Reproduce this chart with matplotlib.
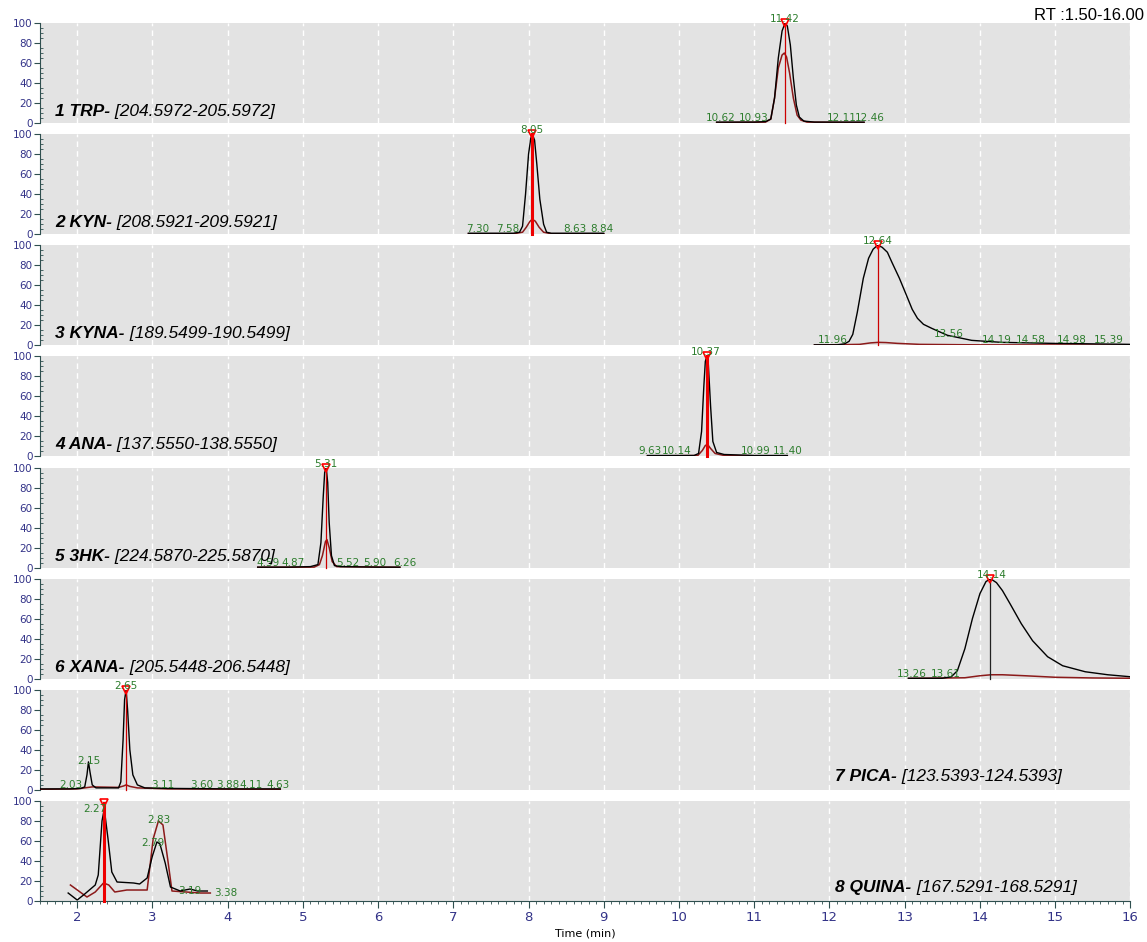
import matplotlib.pyplot as plt
from matplotlib.ticker import MultipleLocator
import numpy as np

# ---- data ----
names = ["1 TRP-", "2 KYN-", "3 KYNA-", "4 ANA-", "5 3HK-", "6 XANA-", "7 PICA-", "8 QUINA-"]
ranges = ["[204.5972-205.5972]", "[208.5921-209.5921]", "[189.5499-190.5499]",
          "[137.5550-138.5550]", "[224.5870-225.5870]", "[205.5448-206.5448]",
          "[123.5393-124.5393]", "[167.5291-168.5291]"]

trp_t = [10.50, 11.00, 11.15, 11.22, 11.27, 11.32, 11.37, 11.41, 11.44, 11.48, 11.52, 11.56, 11.60, 11.66, 11.80, 12.10, 12.46]
trp_black = [1, 1, 1.5, 4, 25, 65, 92, 100, 97, 78, 45, 18, 6, 2, 1, 1, 1]
trp_rt = [10.50, 11.15, 11.22, 11.27, 11.32, 11.37, 11.40, 11.43, 11.47, 11.52, 11.57, 11.62, 11.70, 12.46]
trp_red = [0.5, 1, 4, 25, 55, 68, 70, 66, 50, 25, 8, 3, 1, 0.5]

kyn_t = [7.20, 7.50, 7.80, 7.88, 7.92, 7.96, 8.00, 8.03, 8.05, 8.08, 8.11, 8.15, 8.20, 8.24, 8.30, 8.60, 9.00]
kyn_black = [1, 1, 1, 2, 8, 40, 80, 96, 100, 94, 70, 35, 10, 2, 1, 1, 1]
kyn_rt = [7.20, 7.80, 7.92, 7.97, 8.02, 8.05, 8.09, 8.14, 8.20, 8.30, 9.00]
kyn_red = [0.5, 0.5, 2, 7, 13, 15, 13, 7, 2, 0.5, 0.5]

kyna_t = [11.80, 12.10, 12.20, 12.26, 12.31, 12.37, 12.45, 12.52, 12.58, 12.64, 12.70, 12.77, 12.83, 12.93,
          13.04, 13.10, 13.17, 13.25, 13.36, 13.45, 13.57, 13.70, 13.89, 14.29, 14.96, 15.50, 16.00]
kyna_black = [0.5, 0.5, 1.5, 4, 11, 33, 67, 87, 96, 100, 98, 93, 83, 67,
              47, 36, 27, 21, 17, 14, 10, 8, 5, 3, 2, 1.5, 1]
kyna_rt = [11.80, 12.40, 12.55, 12.65, 12.75, 12.90, 13.20, 14.00, 16.00]
kyna_red = [0.3, 1, 2.5, 3, 2.8, 2, 1, 0.5, 0.3]

ana_t = [9.58, 9.90, 10.20, 10.26, 10.30, 10.33, 10.35, 10.37, 10.39, 10.42, 10.45, 10.50, 10.60, 11.00, 11.44]
ana_black = [1, 1, 1, 3, 25, 70, 95, 100, 92, 50, 15, 4, 2, 1, 1]
ana_rt = [9.58, 10.25, 10.31, 10.35, 10.38, 10.42, 10.48, 10.60, 11.44]
ana_red = [0.5, 1, 6, 11, 12, 8, 3, 1, 0.5]

hk_t = [4.40, 4.80, 5.10, 5.20, 5.24, 5.27, 5.29, 5.31, 5.33, 5.35, 5.38, 5.42, 5.50, 6.00, 6.29]
hk_black = [0.5, 0.5, 1, 3, 25, 70, 95, 100, 85, 45, 12, 2, 1, 0.5, 0.5]
hk_rt = [4.40, 5.15, 5.22, 5.26, 5.30, 5.32, 5.35, 5.39, 5.45, 6.29]
hk_red = [0.3, 0.5, 3, 12, 26, 28, 20, 6, 1, 0.3]

xana_t = [13.05, 13.50, 13.62, 13.70, 13.80, 13.90, 14.00, 14.08, 14.14, 14.22, 14.30, 14.40, 14.55, 14.70, 14.90, 15.10, 15.40, 15.70, 16.00]
xana_black = [0.5, 0.5, 2, 8, 30, 60, 85, 97, 100, 96, 88, 75, 55, 38, 22, 13, 7, 4, 2]
xana_rt = [13.05, 13.80, 14.00, 14.15, 14.30, 14.60, 15.00, 15.50, 16.00]
xana_red = [0.3, 1, 3, 4, 4, 3, 1.5, 0.8, 0.5]

pica_t = [1.50, 1.90, 2.05, 2.10, 2.13, 2.15, 2.17, 2.20, 2.25, 2.40, 2.55, 2.58, 2.61, 2.63, 2.65, 2.67, 2.70, 2.74, 2.80, 2.90, 3.20, 4.00, 4.70]
pica_black = [1, 1, 1.5, 3, 15, 28, 18, 5, 2, 2, 2, 8, 50, 90, 100, 80, 40, 15, 5, 2, 1.5, 1, 1]
pica_rt = [1.50, 2.00, 2.10, 2.20, 2.55, 2.62, 2.65, 2.70, 2.80, 3.20, 4.70]
pica_red = [0.5, 1, 2, 3, 2.5, 4, 5, 3.5, 2, 1, 0.5]

quina_t = [1.88, 2.00, 2.10, 2.24, 2.28, 2.33, 2.36, 2.41, 2.46, 2.53, 2.75, 2.83, 2.93, 3.00, 3.06, 3.10, 3.17, 3.24, 3.37, 3.50, 3.60, 3.73]
quina_black = [8, 1, 7, 16, 26, 80, 92, 62, 29, 19, 18, 17, 23, 45, 59, 57, 38, 14, 10, 12, 10, 10]
quina_rt = [1.91, 2.13, 2.24, 2.35, 2.42, 2.50, 2.66, 2.93, 3.01, 3.08, 3.14, 3.21, 3.26, 3.64, 3.77]
quina_red = [16, 4, 9, 18, 16, 9, 11, 11, 62, 80, 76, 38, 10, 8, 8]

times = [trp_t, kyn_t, kyna_t, ana_t, hk_t, xana_t, pica_t, quina_t]
blacks = [trp_black, kyn_black, kyna_black, ana_black, hk_black, xana_black, pica_black, quina_black]
red_times = [trp_rt, kyn_rt, kyna_rt, ana_rt, hk_rt, xana_rt, pica_rt, quina_rt]
reds = [trp_red, kyn_red, kyna_red, ana_red, hk_red, xana_red, pica_red, quina_red]

apex_t = [11.41, 8.05, 12.64, 10.37, 5.31, 14.14, 2.65, 2.36]
apex_y = [100, 100, 100, 100, 100, 100, 100, 98]

# peak labels: text, x (min), y (%)
labels = [
    [("10.62", 10.56, 0), ("10.93", 10.99, 0), ("11.42", 11.40, 99), ("12.11", 12.17, 0), ("12.46", 12.54, 0)],
    [("7.30", 7.33, 0), ("7.58", 7.72, 0), ("8.05", 8.05, 99), ("8.63", 8.61, 0), ("8.84", 8.98, 0)],
    [("11.96", 12.05, 0), ("12.64", 12.64, 99), ("13.56", 13.58, 6), ("14.19", 14.22, 0),
     ("14.58", 14.67, 0), ("14.98", 15.22, 0), ("15.39", 15.71, 0)],
    [("9.63", 9.61, 0), ("10.14", 9.97, 0), ("10.37", 10.35, 99), ("10.99", 11.02, 0), ("11.40", 11.44, 0)],
    [("4.59", 4.54, 0), ("4.87", 4.87, 0), ("5.31", 5.31, 99), ("5.52", 5.60, 0), ("5.90", 5.96, 0), ("6.26", 6.35, 0)],
    [("13.26", 13.09, 0), ("13.61", 13.55, 0), ("14.14", 14.16, 99)],
    [("2.03", 1.91, 0), ("2.15", 2.16, 24), ("2.65", 2.65, 99), ("3.11", 3.14, 0), ("3.60", 3.65, 0),
     ("3.88", 4.00, 0), ("4.11", 4.31, 0), ("4.63", 4.67, 0)],
    [("2.27", 2.24, 87), ("2.83", 3.08, 76), ("2.79", 3.00, 53), ("3.19", 3.50, 5), ("3.38", 3.97, 3)],
]

# ---- styling ----
bg = "#e3e3e3"
green = "#2d7d2d"
navy = "#333388"
dark_red = "#8b1a1a"
spine_col = "#2f4f4f"
line_w = [0.9, 2.2, 0.9, 2.2, 0.9, 0.9, 0.9, 2.2]
line_c = ["#cc0000", "#ee0000", "#cc0000", "#ee0000", "#cc0000", "#222222", "#cc0000", "#ee0000"]

fig, axes = plt.subplots(8, 1, figsize=(11.47, 9.42), dpi=100, sharex=True)
fig.subplots_adjust(left=0.0345, right=0.9855, top=0.9756, bottom=0.0435, hspace=0.11)

for i, ax in enumerate(axes):
    ax.set_facecolor(bg)
    ax.set_xlim(1.5, 16)
    ax.set_ylim(0, 100)
    for g in range(2, 17):
        ax.axvline(g, color="white", lw=1, ls=(0, (4, 3)), zorder=1)

    ax.plot(red_times[i], reds[i], color=dark_red, lw=1.1, zorder=3)
    ax.plot(times[i], blacks[i], color="black", lw=1.0, zorder=4)

    ax.plot([apex_t[i], apex_t[i]], [0, apex_y[i]], color=line_c[i], lw=line_w[i], zorder=5,
            clip_on=False)
    ax.plot(apex_t[i], apex_y[i], marker="v", ms=6, mfc="none", mec="red", mew=1.2,
            zorder=6, clip_on=False)

    for txt, lx, ly in labels[i]:
        ax.text(lx, ly, txt, color=green, fontsize=7.5, ha="center", va="bottom", zorder=7)

    if i < 6:
        nx, ny = 1.71, 7
    else:
        nx, ny = 12.08, 9
    t1 = ax.text(nx, ny, names[i], fontsize=12.5, fontweight="bold", fontstyle="italic",
                 family="Liberation Sans", va="baseline", zorder=8)
    ax.annotate(" " + ranges[i], xy=(1, 0), xycoords=t1, fontsize=12.5, fontstyle="italic",
                family="Liberation Sans", va="bottom", ha="left", zorder=8)

    for s in ["top", "right"]:
        ax.spines[s].set_visible(False)
    ax.spines["left"].set_color(spine_col)
    ax.yaxis.set_major_locator(MultipleLocator(20))
    ax.yaxis.set_minor_locator(MultipleLocator(5))
    ax.tick_params(axis="y", which="major", length=4, color=spine_col, labelcolor=navy,
                   labelsize=7.5, pad=1)
    ax.tick_params(axis="y", which="minor", length=2, direction="in", color=spine_col)
    if i < 7:
        ax.spines["bottom"].set_visible(False)
        ax.tick_params(axis="x", which="both", bottom=False, labelbottom=False)

last = axes[-1]
last.spines["bottom"].set_color(spine_col)
last.xaxis.set_major_locator(MultipleLocator(1))
last.xaxis.set_minor_locator(MultipleLocator(0.1))
last.tick_params(axis="x", which="major", length=5, color=spine_col, labelcolor=navy,
                 labelsize=9.5, pad=2)
last.tick_params(axis="x", which="minor", length=2, color=spine_col)

fig.text(0.51, 0.0085, "Time (min)", fontsize=8, ha="center", va="center")
fig.text(0.997, 0.976, "RT :1.50-16.00", fontsize=12, ha="right", va="bottom",
         family="Liberation Sans")

fig.savefig("out.png", dpi=100)
